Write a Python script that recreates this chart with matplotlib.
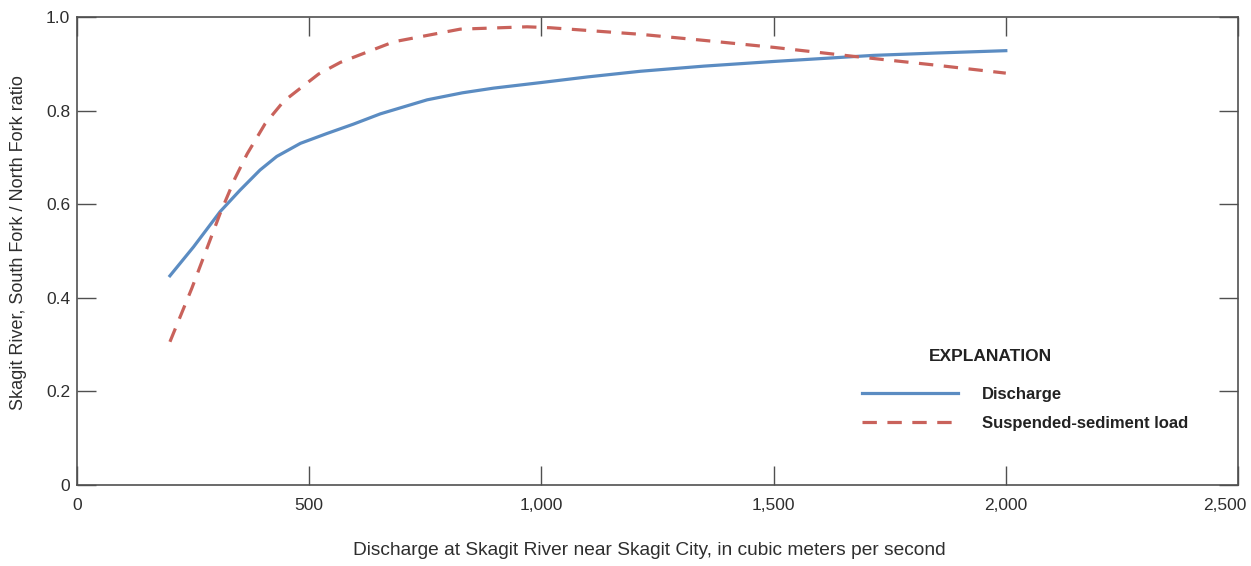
import matplotlib
matplotlib.use("Agg")
import matplotlib.pyplot as plt
import matplotlib.transforms as mtransforms
from matplotlib.ticker import FuncFormatter

plt.rcParams['font.family'] = ['Liberation Sans Narrow', 'Liberation Sans', 'DejaVu Sans']

# values
discharge_q = [200, 251, 308, 351, 394, 430, 481, 538, 595, 653, 754, 830, 897, 1000, 1100, 1213, 1350, 1501, 1716, 1850, 2000]
discharge_ratio = [0.447, 0.509, 0.584, 0.630, 0.673, 0.702, 0.730, 0.751, 0.771, 0.793, 0.823, 0.838, 0.848, 0.860, 0.872, 0.884, 0.895, 0.905, 0.918, 0.923, 0.928]

sediment_q = [200, 247, 308, 340, 366, 405, 445, 520, 567, 682, 825, 969, 1019, 1213, 1350, 1501, 1680, 1850, 2000]
sediment_ratio = [0.306, 0.420, 0.580, 0.655, 0.707, 0.772, 0.820, 0.878, 0.903, 0.947, 0.974, 0.979, 0.977, 0.963, 0.950, 0.935, 0.915, 0.897, 0.880]

blue = '#5b8cc2'
red = '#c9625b'
dark = '#2e2e2e'
spine = '#505050'

fig = plt.figure(figsize=(12.51, 5.66), dpi=100)
ax = fig.add_axes([0.0616, 0.1431, 0.928, 0.8269])

ax.plot(discharge_q, discharge_ratio, color=blue, lw=2.3, label='Discharge')
ax.plot(sediment_q, sediment_ratio, color=red, lw=2.3, linestyle=(0, (4.5, 3.3)),
        label='Suspended-sediment load')

ax.set_xlim(0, 2500)
ax.set_ylim(0, 1.0)
ax.set_xticks([0, 500, 1000, 1500, 2000, 2500])
ax.set_yticks([0, 0.2, 0.4, 0.6, 0.8, 1.0])
ax.xaxis.set_major_formatter(FuncFormatter(lambda v, p: f'{int(v):,}'))
ax.yaxis.set_major_formatter(FuncFormatter(lambda v, p: '0' if v == 0 else f'{v:.1f}'))

ax.tick_params(direction='in', length=13.5, width=1.0, color=spine, labelsize=12.5,
               labelcolor=dark, top=True, right=True)
ax.tick_params(axis='x', pad=9)
ax.tick_params(axis='y', pad=5)
for s in ax.spines.values():
    s.set_color(spine)
    s.set_linewidth(1.2)

# last x label sits left of its tick, as in the reference
fig.canvas.draw()
last = ax.get_xticklabels()[-1]
last.set_horizontalalignment('right')
last.set_transform(last.get_transform() + mtransforms.ScaledTranslation(9 / 100, 0, fig.dpi_scale_trans))

ax.set_xlabel('Discharge at Skagit River near Skagit City, in cubic meters per second',
              fontsize=13.8, color=dark)
ax.xaxis.set_label_coords(0.4927, -0.122)
ax.set_ylabel('Skagit River, South Fork / North Fork ratio', fontsize=13, color=dark)
ax.yaxis.set_label_coords(-0.0431, 0.517)

ax.text(0.7864, 0.274, 'EXPLANATION', transform=ax.transAxes, fontsize=12.5,
        fontweight='bold', color='#222222', ha='center', va='center')
leg = ax.legend(loc='upper left', bbox_to_anchor=(0.676, 0.209), frameon=False,
                borderpad=0, borderaxespad=0,
                handlelength=5.75, handletextpad=1.44, labelspacing=0.84,
                prop={'size': 12, 'weight': 'bold'})
for t in leg.get_texts():
    t.set_color('#222222')

fig.savefig('out.png', dpi=100)
